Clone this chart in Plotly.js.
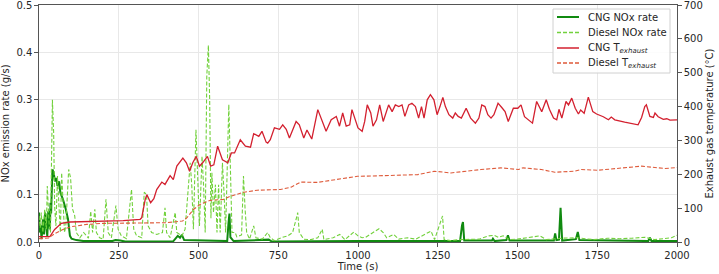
<!DOCTYPE html>
<html>
<head>
<meta charset="utf-8">
<script src="https://cdn.plot.ly/plotly-3.0.1.min.js"></script>
<style>html,body{margin:0;padding:0;background:#fff;}#chart{width:719px;height:274px;}</style>
</head>
<body>
<div id="chart"></div>
<script>
// ---- Data ----
const seriesNames = ["CNG NOx rate", "Diesel NOx rate", "CNG T<sub><i>exhaust</i></sub>", "Diesel T<sub><i>exhaust</i></sub>"];

const cngNoxTime = [0,2,5,8,13,16,19,23,26,29,34,36,38,42,46,50,54,58,63,67,75,84,91,97,102,117,139,230,240,255,270,420,435,442,448,455,590,594,597,600,610,720,730,1000,1320,1326,1329,1333,1420,1423,1428,1465,1470,1475,1614,1618,1622,1630,1635,1640,1683,1689,1694,1910,1915,1920,2000];
const cngNoxRate = [0.062,0.02,0.035,0.006,0.048,0.016,0.062,0.02,0.012,0.065,0.027,0.083,0.06,0.153,0.146,0.128,0.135,0.118,0.128,0.104,0.09,0.069,0.048,0.013,0.007,0.004,0.002,0.002,0.004,0.003,0.001,0.001,0.013,0.009,0.015,0.004,0.002,0.04,0.06,0.01,0.002,0.005,0.001,0.002,0.002,0.035,0.042,0.003,0.003,0.007,0.002,0.004,0.014,0.003,0.003,0.018,0.004,0.005,0.072,0.003,0.006,0.021,0.004,0.002,0.009,0.002,0.002];

const dieselNoxTime = [0,4,7,12,18,23,26,32,36,42,46,49,53,58,63,67,71,75,80,84,93,99,105,112,117,128,140,155,162,168,175,180,190,201,210,217,227,241,248,258,274,290,297,306,322,330,337,342,353,369,387,395,400,411,427,432,448,458,469,474,479,484,492,497,503,511,516,521,526,531,535,539,542,547,553,558,563,568,575,580,585,595,600,605,615,620,635,641,646,651,660,673,680,700,717,725,738,759,780,795,806,811,816,830,853,874,888,893,922,943,959,987,1000,1013,1024,1066,1079,1090,1112,1128,1155,1169,1181,1229,1240,1265,1270,1290,1320,1379,1410,1428,1440,1455,1476,1500,1528,1570,1590,1640,1686,1738,1783,1820,1858,1899,1930,1983,2000];
const dieselNoxRate = [0.055,0.03,0.062,0.02,0.069,0.027,0.118,0.034,0.02,0.30,0.23,0.076,0.034,0.139,0.07,0.02,0.146,0.07,0.02,0.034,0.153,0.135,0.07,0.055,0.02,0.009,0.02,0.008,0.065,0.02,0.069,0.02,0.009,0.006,0.09,0.02,0.009,0.077,0.027,0.013,0.007,0.111,0.027,0.013,0.009,0.105,0.1,0.034,0.02,0.016,0.02,0.072,0.02,0.009,0.062,0.02,0.013,0.027,0.118,0.167,0.118,0.027,0.237,0.16,0.034,0.181,0.118,0.02,0.35,0.415,0.3,0.05,0.146,0.062,0.121,0.02,0.121,0.02,0.167,0.104,0.02,0.29,0.18,0.02,0.02,0.011,0.015,0.139,0.07,0.02,0.006,0.034,0.009,0.006,0.02,0.009,0.003,0.009,0.013,0.02,0.048,0.062,0.02,0.006,0.005,0.009,0.027,0.005,0.009,0.016,0.005,0.021,0.013,0.009,0.01,0.028,0.02,0.009,0.016,0.006,0.009,0.007,0.006,0.023,0.005,0.055,0.005,0.003,0.005,0.006,0.013,0.014,0.01,0.013,0.005,0.006,0.009,0.013,0.005,0.008,0.009,0.005,0.008,0.007,0.008,0.01,0.005,0.009,0.014];

const cngTempTime = [0,34,49,70,97,180,264,317,322,333,338,350,360,369,385,395,411,421,432,451,462,472,482,493,503,513,528,538,548,560,575,592,603,613,621,631,647,663,673,689,699,712,717,725,738,754,764,775,785,806,816,830,840,855,874,884,900,916,932,942,952,963,974,981,992,1000,1013,1021,1029,1040,1047,1058,1068,1079,1096,1107,1117,1128,1138,1147,1159,1169,1180,1190,1199,1207,1217,1227,1238,1248,1257,1266,1274,1285,1297,1305,1314,1324,1339,1353,1368,1379,1388,1398,1407,1417,1426,1439,1450,1461,1471,1487,1501,1511,1522,1532,1547,1560,1576,1590,1600,1613,1623,1630,1639,1652,1660,1670,1681,1691,1698,1709,1722,1736,1748,1769,1785,1794,1805,1836,1878,1889,1899,1904,1915,1926,1931,1941,1957,1968,1978,2000];
const cngTemp = [16,16,37,55,59,61,63,67,72,126,140,116,128,155,177,170,196,184,224,248,234,209,234,253,224,234,253,224,228,283,243,234,263,263,283,302,283,280,320,312,327,295,292,302,337,333,346,333,307,356,346,307,331,304,391,366,327,361,371,342,381,342,346,391,356,337,327,356,405,381,342,361,405,356,405,385,405,400,405,371,405,410,400,366,400,366,420,435,420,376,400,427,400,376,366,381,371,366,395,366,351,366,405,400,376,366,376,410,398,385,356,395,395,405,370,362,351,415,385,420,392,366,361,392,366,415,405,425,395,378,390,380,428,385,378,370,361,369,361,354,346,368,400,405,371,368,381,370,362,364,360,361];

const dieselTempTime = [0,30,50,75,100,150,200,300,400,450,464,484,505,537,579,600,642,684,757,790,820,872,937,998,1082,1187,1240,1291,1385,1448,1503,1517,1575,1617,1679,1700,1752,1805,1889,1962,2000];
const dieselTemp = [10,12,25,37,45,52,55,57,57,62,72,96,111,123,126,135,147,153,155,162,177,176,186,194,196,199,209,204,214,219,214,219,214,206,209,214,212,217,224,217,220];

const xTicks = [0,250,500,750,1000,1250,1500,1750,2000];
const yTicks = [0,0.1,0.2,0.3,0.4,0.5];
const y2Ticks = [0,100,200,300,400,500,600,700];

// ---- Styles ----
const colors = ["#108a10", "#72d13c", "#d3202f", "#de5a3a"];
const dashes = ["solid", "4px,2px", "solid", "4px,2px"];
const widths = [2, 1.1, 1.3, 1.1];

const font = {family: "DejaVu Sans", size: 10, color: "#262626"};
const traces = [
  {x: cngNoxTime, y: cngNoxRate, yaxis: "y"},
  {x: dieselNoxTime, y: dieselNoxRate, yaxis: "y"},
  {x: cngTempTime, y: cngTemp, yaxis: "y2"},
  {x: dieselTempTime, y: dieselTemp, yaxis: "y2"}
].map((t, i) => Object.assign(t, {
  name: seriesNames[i], type: "scatter", mode: "lines", showlegend: false,
  line: {color: colors[i], width: widths[i], dash: dashes[i]}
}));

// ---- Legend drawn in the upper right corner (matplotlib-like compact box) ----
const W = 719, H = 274, mL = 39, mR = 42, mT = 5, mB = 32;
const pw = W - mL - mR, ph = H - mT - mB;
const px2x = p => (p - mL) / pw;
const py2y = p => (H - mB - p) / ph;
const legBox = {x0: 553, x1: 670, y0: 9, y1: 73};
const rowY = [17, 32.5, 48, 63];
const shapes = [{
  type: "rect", xref: "paper", yref: "paper", layer: "above",
  x0: px2x(legBox.x0), x1: px2x(legBox.x1), y0: py2y(legBox.y1), y1: py2y(legBox.y0),
  line: {color: "#d0d0d0", width: 1}, fillcolor: "rgba(255,255,255,0.85)"
}];
const annotations = [];
seriesNames.forEach((nm, i) => {
  shapes.push({type: "line", xref: "paper", yref: "paper", layer: "above",
    x0: px2x(557), x1: px2x(579), y0: py2y(rowY[i]), y1: py2y(rowY[i]),
    line: {color: colors[i], width: widths[i] + (i === 0 ? 0 : 0.2), dash: dashes[i]}});
  annotations.push({xref: "paper", yref: "paper", x: px2x(586), y: py2y(rowY[i]),
    xanchor: "left", yanchor: "middle", showarrow: false, text: nm,
    font: {family: "DejaVu Sans", size: 10, color: "#262626"}});
});

const axisCommon = {
  showline: true, linecolor: "#555", linewidth: 1.2,
  ticks: "outside", ticklen: 3.5, tickcolor: "#555", tickwidth: 1,
  zeroline: false, tickfont: font, ticklabeloverflow: "allow"
};

const layout = {
  width: W, height: H,
  margin: {l: mL, r: mR, t: mT, b: mB},
  paper_bgcolor: "#fff", plot_bgcolor: "#fff",
  font: font,
  showlegend: false,
  shapes: shapes,
  annotations: annotations,
  xaxis: Object.assign({}, axisCommon, {
    range: [0, 2000], tickvals: xTicks, ticktext: xTicks.map(String),
    mirror: true, showgrid: true, gridcolor: "#e8e8e8", gridwidth: 1,
    title: {text: "Time (s)", font: font, standoff: 1}
  }),
  yaxis: Object.assign({}, axisCommon, {
    range: [0, 0.5], tickvals: yTicks, ticktext: yTicks.map(v => v.toFixed(1)),
    showgrid: true, gridcolor: "#e8e8e8", gridwidth: 1,
    title: {text: "NOx emission rate (g/s)", font: font, standoff: 4}
  }),
  yaxis2: Object.assign({}, axisCommon, {
    range: [0, 700], tickvals: y2Ticks, ticktext: y2Ticks.map(String),
    overlaying: "y", side: "right", showgrid: false,
    title: {text: "Exhaust gas temperature (°C)", font: font, standoff: 4}
  })
};

Plotly.newPlot("chart", traces, layout, {displayModeBar: false, staticPlot: true});
</script>
</body>
</html>
